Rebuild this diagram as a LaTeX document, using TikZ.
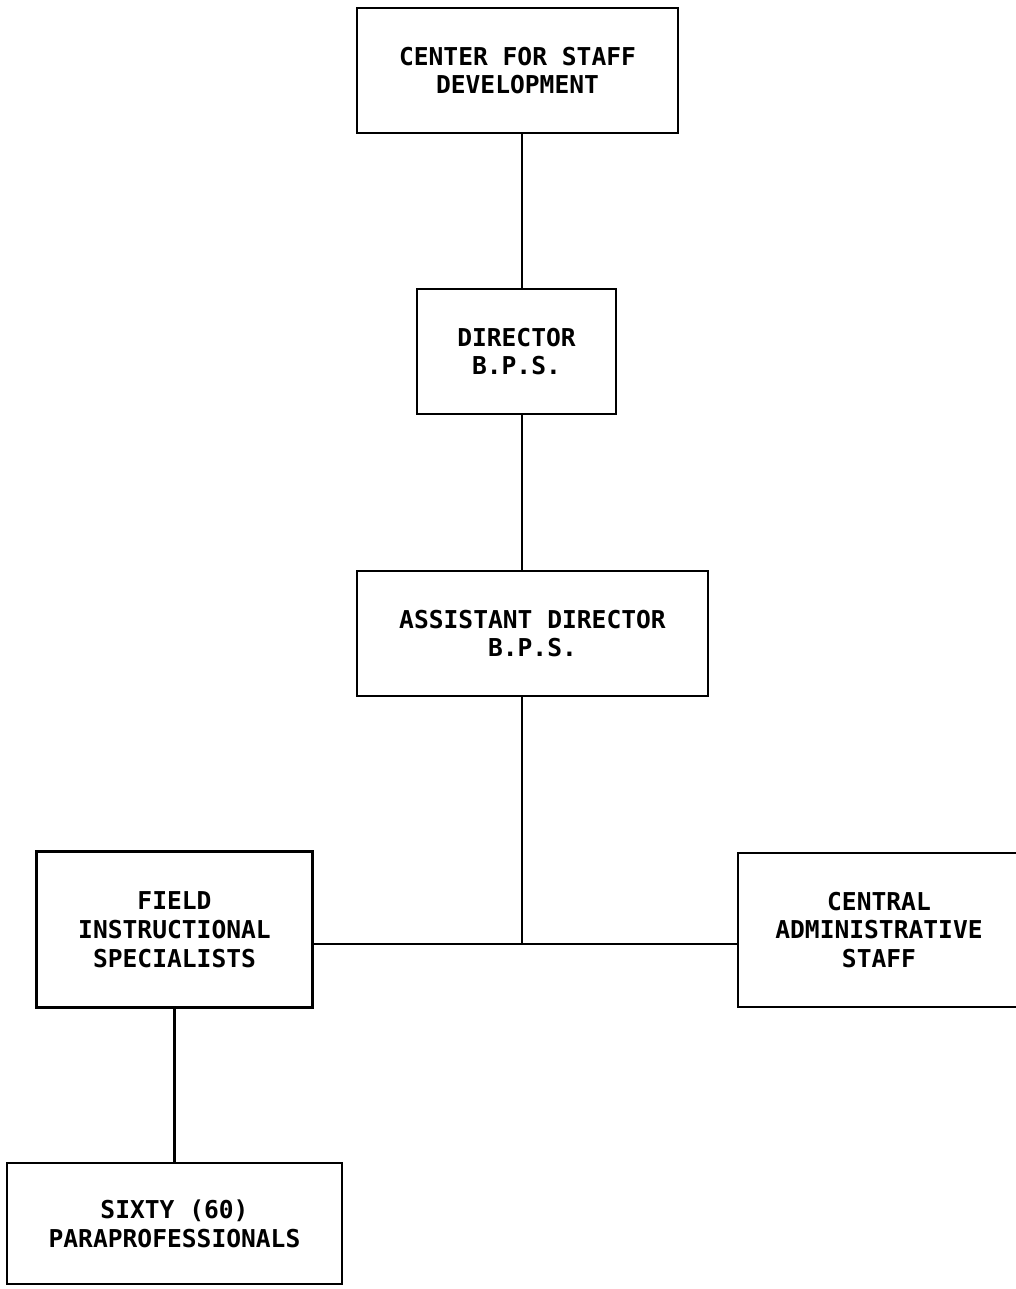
\documentclass[tikz,border=0pt]{standalone}
\usepackage{fontspec}
\newfontfamily\typefont{DejaVu Sans Mono}
\newcommand\orgfont{\typefont\bfseries\fontsize{14}{16.4}\selectfont}
\begin{document}
\begin{tikzpicture}[x=0.02cm,y=-0.02cm,
  office/.style={draw,line width=1.3pt,inner sep=0pt,align=center,font=\orgfont},
  link/.style={line width=1.3pt}]
\useasboundingbox (0,0) rectangle (1016,1289);
%offices
 \node[office,minimum width=6.42cm,minimum height=2.5cm] (cfsd) at (517.5,70.5) {CENTER FOR STAFF\\DEVELOPMENT}; %top
 \node[office,minimum width=3.98cm,minimum height=2.5cm] (dir) at (516.5,351.5) {DIRECTOR\\B.P.S.}; %director
 \node[office,minimum width=7.02cm,minimum height=2.5cm] (asst) at (532.5,633.5) {ASSISTANT DIRECTOR\\B.P.S.}; %assistant
 \node[office,minimum width=5.52cm,minimum height=3.12cm] (fis) at (174.5,929.5) {FIELD\\INSTRUCTIONAL\\SPECIALISTS}; %left
 \node[office,minimum width=5.64cm,minimum height=3.08cm] (cas) at (879,930) {CENTRAL\\ADMINISTRATIVE\\STAFF}; %right, runs off the page
 \node[office,minimum width=6.7cm,minimum height=2.42cm] (para) at (174.5,1223.5) {SIXTY (60)\\PARAPROFESSIONALS}; %bottom
%lines
 \coordinate (jn) at (522,944); %junction
 \draw[link] (cfsd.south -| jn) -- (dir.north -| jn);
 \draw[link] (dir.south -| jn) -- (asst.north -| jn);
 \draw[link] (asst.south -| jn) -- (jn);
 \draw[link] (fis.east |- jn) -- (cas.west |- jn); %cross bar
 \draw[link] (fis.south) -- (para.north);
\end{tikzpicture}
\end{document}
